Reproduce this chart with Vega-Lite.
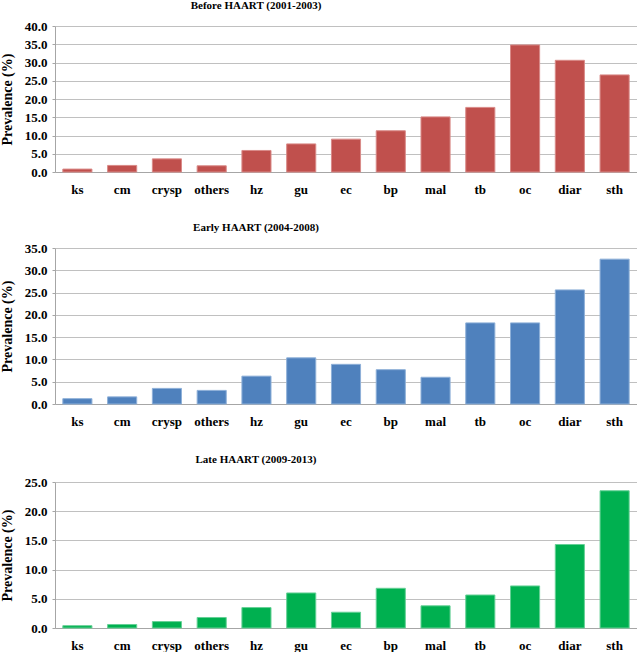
{
  "$schema": "https://vega.github.io/schema/vega-lite/v6.json",
  "padding": {"left": 0, "top": 0, "right": 0, "bottom": 0},
  "background": "white",
  "spacing": 26,
  "config": {
    "font": "Liberation Serif",
    "view": {"stroke": null},
    "title": {"font": "Liberation Serif", "fontSize": 11, "fontWeight": "bold", "color": "#000", "offset": 9, "anchor": "middle", "dx": -90},
    "axis": {"labelFont": "Liberation Serif", "labelFontSize": 13, "labelFontWeight": "bold", "labelColor": "#000", "titleFont": "Liberation Serif", "titleFontSize": 14, "titleFontWeight": "bold", "titleColor": "#000", "domainColor": "#a6a6a6", "tickColor": "#a6a6a6", "gridColor": "#c0c0c0", "labelOverlap": false},
    "axisX": {"labelAngle": 0, "ticks": false, "labelPadding": 11, "title": null, "grid": false},
    "axisY": {"tickSize": 3, "labelPadding": 5, "titlePadding": 10, "format": ".1f"},
    "scale": {"bandPaddingInner": 0.35, "bandPaddingOuter": 0.175}
  },
  "datasets": {
    "before": [
      {"cat": "ks", "value": 0.8}, {"cat": "cm", "value": 1.8}, {"cat": "crysp", "value": 3.6}, {"cat": "others", "value": 1.7},
      {"cat": "hz", "value": 5.9}, {"cat": "gu", "value": 7.7}, {"cat": "ec", "value": 9.0}, {"cat": "bp", "value": 11.3},
      {"cat": "mal", "value": 15.1}, {"cat": "tb", "value": 17.7}, {"cat": "oc", "value": 34.8}, {"cat": "diar", "value": 30.6},
      {"cat": "sth", "value": 26.6}
    ],
    "early": [
      {"cat": "ks", "value": 1.2}, {"cat": "cm", "value": 1.6}, {"cat": "crysp", "value": 3.5}, {"cat": "others", "value": 3.05},
      {"cat": "hz", "value": 6.25}, {"cat": "gu", "value": 10.35}, {"cat": "ec", "value": 8.9}, {"cat": "bp", "value": 7.7},
      {"cat": "mal", "value": 6.0}, {"cat": "tb", "value": 18.2}, {"cat": "oc", "value": 18.2}, {"cat": "diar", "value": 25.6},
      {"cat": "sth", "value": 32.5}
    ],
    "late": [
      {"cat": "ks", "value": 0.4}, {"cat": "cm", "value": 0.6}, {"cat": "crysp", "value": 1.1}, {"cat": "others", "value": 1.8},
      {"cat": "hz", "value": 3.5}, {"cat": "gu", "value": 6.0}, {"cat": "ec", "value": 2.7}, {"cat": "bp", "value": 6.8},
      {"cat": "mal", "value": 3.8}, {"cat": "tb", "value": 5.65}, {"cat": "oc", "value": 7.2}, {"cat": "diar", "value": 14.3},
      {"cat": "sth", "value": 23.5}
    ]
  },
  "vconcat": [
    {
      "title": "Before HAART (2001-2003)",
      "width": 582, "height": 146,
      "data": {"name": "before"},
      "mark": {"type": "bar", "color": "#c0504d", "stroke": "#d98a88", "strokeWidth": 1},
      "encoding": {
        "x": {"field": "cat", "type": "nominal", "sort": null, "axis": {"title": null}},
        "y": {"field": "value", "type": "quantitative", "title": "Prevalence (%)", "scale": {"domain": [0, 40], "nice": false}, "axis": {"values": [0, 5, 10, 15, 20, 25, 30, 35, 40]}}
      }
    },
    {
      "title": "Early  HAART (2004-2008)",
      "width": 582, "height": 156,
      "data": {"name": "early"},
      "mark": {"type": "bar", "color": "#4f81bd", "stroke": "#8eb0d8", "strokeWidth": 1},
      "encoding": {
        "x": {"field": "cat", "type": "nominal", "sort": null, "axis": {"title": null}},
        "y": {"field": "value", "type": "quantitative", "title": "Prevalence (%)", "scale": {"domain": [0, 35], "nice": false}, "axis": {"values": [0, 5, 10, 15, 20, 25, 30, 35]}}
      }
    },
    {
      "title": {"text": "Late HAART  (2009-2013)", "offset": 11},
      "width": 582, "height": 146,
      "data": {"name": "late"},
      "mark": {"type": "bar", "color": "#00b050", "stroke": "#66d096", "strokeWidth": 1},
      "encoding": {
        "x": {"field": "cat", "type": "nominal", "sort": null, "axis": {"title": null}},
        "y": {"field": "value", "type": "quantitative", "title": "Prevalence (%)", "scale": {"domain": [0, 25], "nice": false}, "axis": {"values": [0, 5, 10, 15, 20, 25]}}
      }
    }
  ]
}
